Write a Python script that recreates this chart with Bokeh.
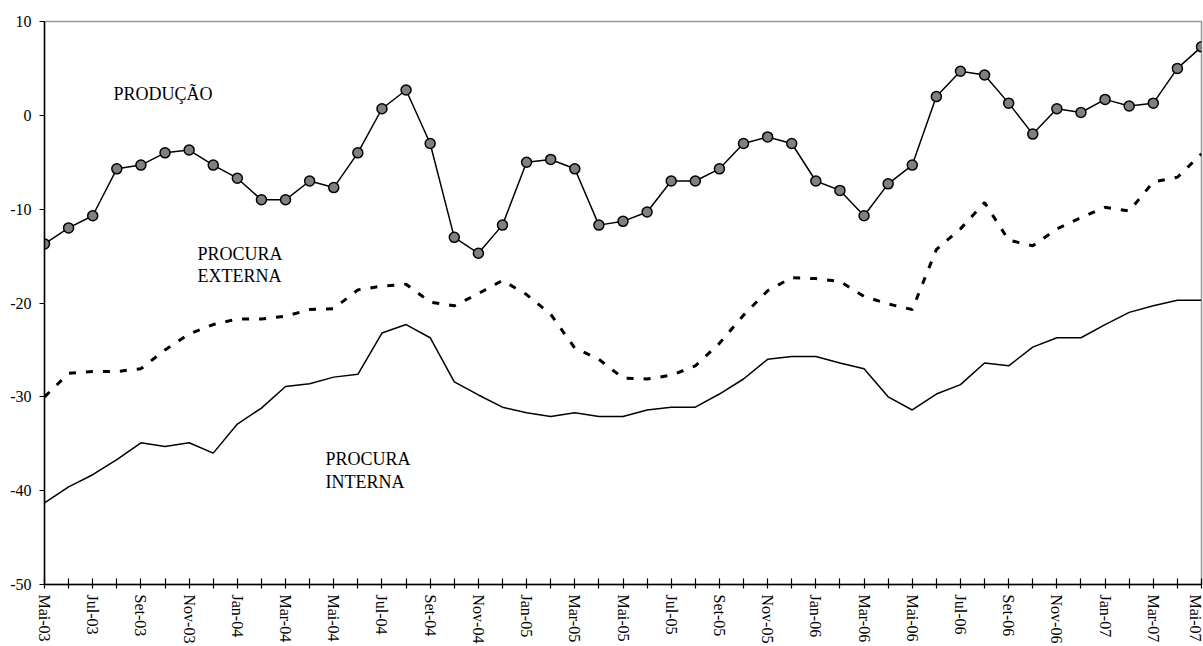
from bokeh.plotting import figure
from bokeh.models import FixedTicker, Label, Range1d
from bokeh.embed import file_html
from bokeh.resources import INLINE

months = ["Mai-03", "Jun-03", "Jul-03", "Ago-03", "Set-03", "Out-03", "Nov-03", "Dez-03",
          "Jan-04", "Fev-04", "Mar-04", "Abr-04", "Mai-04", "Jun-04", "Jul-04", "Ago-04",
          "Set-04", "Out-04", "Nov-04", "Dez-04", "Jan-05", "Fev-05", "Mar-05", "Abr-05",
          "Mai-05", "Jun-05", "Jul-05", "Ago-05", "Set-05", "Out-05", "Nov-05", "Dez-05",
          "Jan-06", "Fev-06", "Mar-06", "Abr-06", "Mai-06", "Jun-06", "Jul-06", "Ago-06",
          "Set-06", "Out-06", "Nov-06", "Dez-06", "Jan-07", "Fev-07", "Mar-07", "Abr-07",
          "Mai-07"]

producao = [-13.7, -12.0, -10.7, -5.7, -5.3, -4.0, -3.7, -5.3, -6.7, -9.0, -9.0, -7.0,
            -7.7, -4.0, 0.7, 2.7, -3.0, -13.0, -14.7, -11.7, -5.0, -4.7, -5.7, -11.7,
            -11.3, -10.3, -7.0, -7.0, -5.7, -3.0, -2.3, -3.0, -7.0, -8.0, -10.7, -7.3,
            -5.3, 2.0, 4.7, 4.3, 1.3, -2.0, 0.7, 0.3, 1.7, 1.0, 1.3, 5.0, 7.3]

procura_externa = [-30.0, -27.5, -27.3, -27.3, -27.0, -25.0, -23.3, -22.3, -21.7, -21.7,
                   -21.4, -20.7, -20.6, -18.6, -18.2, -18.0, -19.9, -20.3, -19.0, -17.6,
                   -19.1, -21.2, -24.8, -26.0, -28.0, -28.1, -27.7, -26.7, -24.3, -21.3,
                   -18.7, -17.3, -17.4, -17.7, -19.3, -20.1, -20.7, -14.3, -12.1, -9.3,
                   -13.3, -13.9, -12.1, -10.9, -9.8, -10.2, -7.1, -6.6, -4.1]

procura_interna = [-41.3, -39.6, -38.3, -36.7, -34.9, -35.3, -34.9, -36.0, -32.9, -31.2,
                   -28.9, -28.6, -27.9, -27.6, -23.2, -22.3, -23.7, -28.4, -29.8, -31.1,
                   -31.7, -32.1, -31.7, -32.1, -32.1, -31.4, -31.1, -31.1, -29.7, -28.1,
                   -26.0, -25.7, -25.7, -26.4, -27.0, -30.0, -31.4, -29.7, -28.7, -26.4,
                   -26.7, -24.7, -23.7, -23.7, -22.3, -21.0, -20.3, -19.7, -19.7]

y_ticks = [10, 0, -10, -20, -30, -40, -50]

x = list(range(len(months)))
FONT = "Liberation Serif"

p = figure(width=1203, height=646, output_backend="svg", toolbar_location=None,
           x_range=Range1d(0, len(months) - 1), y_range=Range1d(-50, 10),
           min_border_left=44, min_border_right=2, min_border_top=21, min_border_bottom=62)

p.background_fill_color = "white"
p.border_fill_color = "white"
p.outline_line_color = "#999999"
p.outline_line_width = 1.5
p.xgrid.visible = False
p.ygrid.visible = False

# x axis
p.xaxis.ticker = FixedTicker(ticks=x)
p.xaxis.major_label_overrides = {i: (m if i % 2 == 0 else "") for i, m in enumerate(months)}
p.xaxis.major_label_orientation = "vertical"
p.xaxis.major_tick_in = 6
p.xaxis.major_tick_out = 4
p.xaxis.minor_tick_line_color = None
p.xaxis.major_label_standoff = 6
p.xaxis.axis_line_color = "black"
p.xaxis.axis_line_width = 1.5
p.xaxis.major_tick_line_color = "black"
p.xaxis.major_tick_line_width = 1.2
p.xaxis.major_label_text_font = FONT
p.xaxis.major_label_text_font_size = "16px"
p.xaxis.major_label_text_color = "black"

# y axis
p.yaxis.ticker = FixedTicker(ticks=y_ticks)
p.yaxis.major_label_overrides = {v: str(v) for v in y_ticks}
p.yaxis.major_tick_in = 0
p.yaxis.major_tick_out = 5
p.yaxis.minor_tick_line_color = None
p.yaxis.major_label_standoff = 8
p.yaxis.axis_line_color = "black"
p.yaxis.axis_line_width = 1.5
p.yaxis.major_tick_line_color = "black"
p.yaxis.major_tick_line_width = 1.2
p.yaxis.major_label_text_font = FONT
p.yaxis.major_label_text_font_size = "16px"
p.yaxis.major_label_text_color = "black"

# series
p.line(x, procura_interna, line_color="black", line_width=1.5)
p.line(x, procura_externa, line_color="black", line_width=3, line_dash="7 10")
p.line(x, producao, line_color="black", line_width=1.5)
p.scatter(x, producao, size=10, marker="circle", fill_color="#808080",
          line_color="black", line_width=1.5)

def add_label(xv, yv, txt):
    p.add_layout(Label(x=xv, y=yv, text=txt, text_font=FONT, text_font_size="18px",
                       text_color="black", text_baseline="alphabetic", text_align="left"))

add_label(2.86, 2.3, "PRODUÇÃO")
add_label(6.35, -14.75, "PROCURA")
add_label(6.35, -17.1, "EXTERNA")
add_label(11.66, -36.6, "PROCURA")
add_label(11.66, -39.05, "INTERNA")

open("out.html", "w").write(file_html(p, INLINE))
